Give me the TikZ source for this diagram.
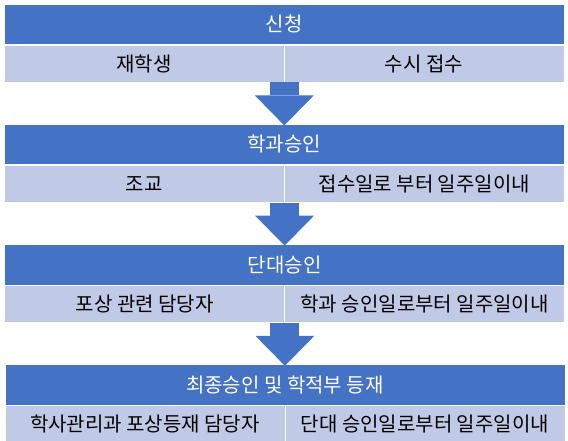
\documentclass[tikz,border=0pt]{standalone}
\usepackage{fontspec}
\setmainfont{Noto Sans CJK KR}
\usetikzlibrary{arrows.meta,positioning}
\definecolor{headblue}{RGB}{68,114,196}
\definecolor{cellblue}{RGB}{192,202,230}

\begin{document}
\begin{tikzpicture}[x=1pt,y=1pt,font=\fontsize{20}{24}\selectfont,
  hd/.style={draw=white,line width=0.6pt,fill=headblue,text=white,minimum width=560pt,minimum height=40.5pt,inner sep=0pt},
  cl/.style={draw=white,line width=0.6pt,fill=cellblue,text=black,minimum width=280pt,minimum height=37pt,inner sep=0pt},
  ar/.style={headblue,line width=29pt,-{Triangle[width=59pt,length=30pt,line width=0pt]}}]
  \useasboundingbox (0,0) rectangle (568,-440);
  \node[hd] (apply) at (284,-24.25) {신청};
  \node[cl,anchor=north west] (applywho) at (apply.south west) {재학생};
  \node[cl,anchor=north east] (applywhen) at (apply.south east) {수시 접수};
  \node[hd,below=41.5pt of applywho.south east] (dept) {학과승인};
  \node[cl,anchor=north west] (deptwho) at (dept.south west) {조교};
  \node[cl,anchor=north east] (deptwhen) at (dept.south east) {접수일로 부터 일주일이내};
  \node[hd,below=41.5pt of deptwho.south east] (college) {단대승인};
  \node[cl,anchor=north west] (collegewho) at (college.south west) {포상 관련 담당자};
  \node[cl,anchor=north east] (collegewhen) at (college.south east) {학과 승인일로부터 일주일이내};
  \node[hd,below=41.5pt of collegewho.south east] (final) {최종승인 및 학적부 등재};
  \node[cl,anchor=north west] (finalwho) at (final.south west) {학사관리과 포상등재 담당자};
  \node[cl,anchor=north east] (finalwhen) at (final.south east) {단대 승인일로부터 일주일이내};
  \draw[ar] (applywho.south east) -- ([yshift=-1.5pt]dept.north);
  \draw[ar] (deptwho.south east) -- ([yshift=-1.5pt]college.north);
  \draw[ar] (collegewho.south east) -- ([yshift=-1.5pt]final.north);
\end{tikzpicture}
\end{document}
